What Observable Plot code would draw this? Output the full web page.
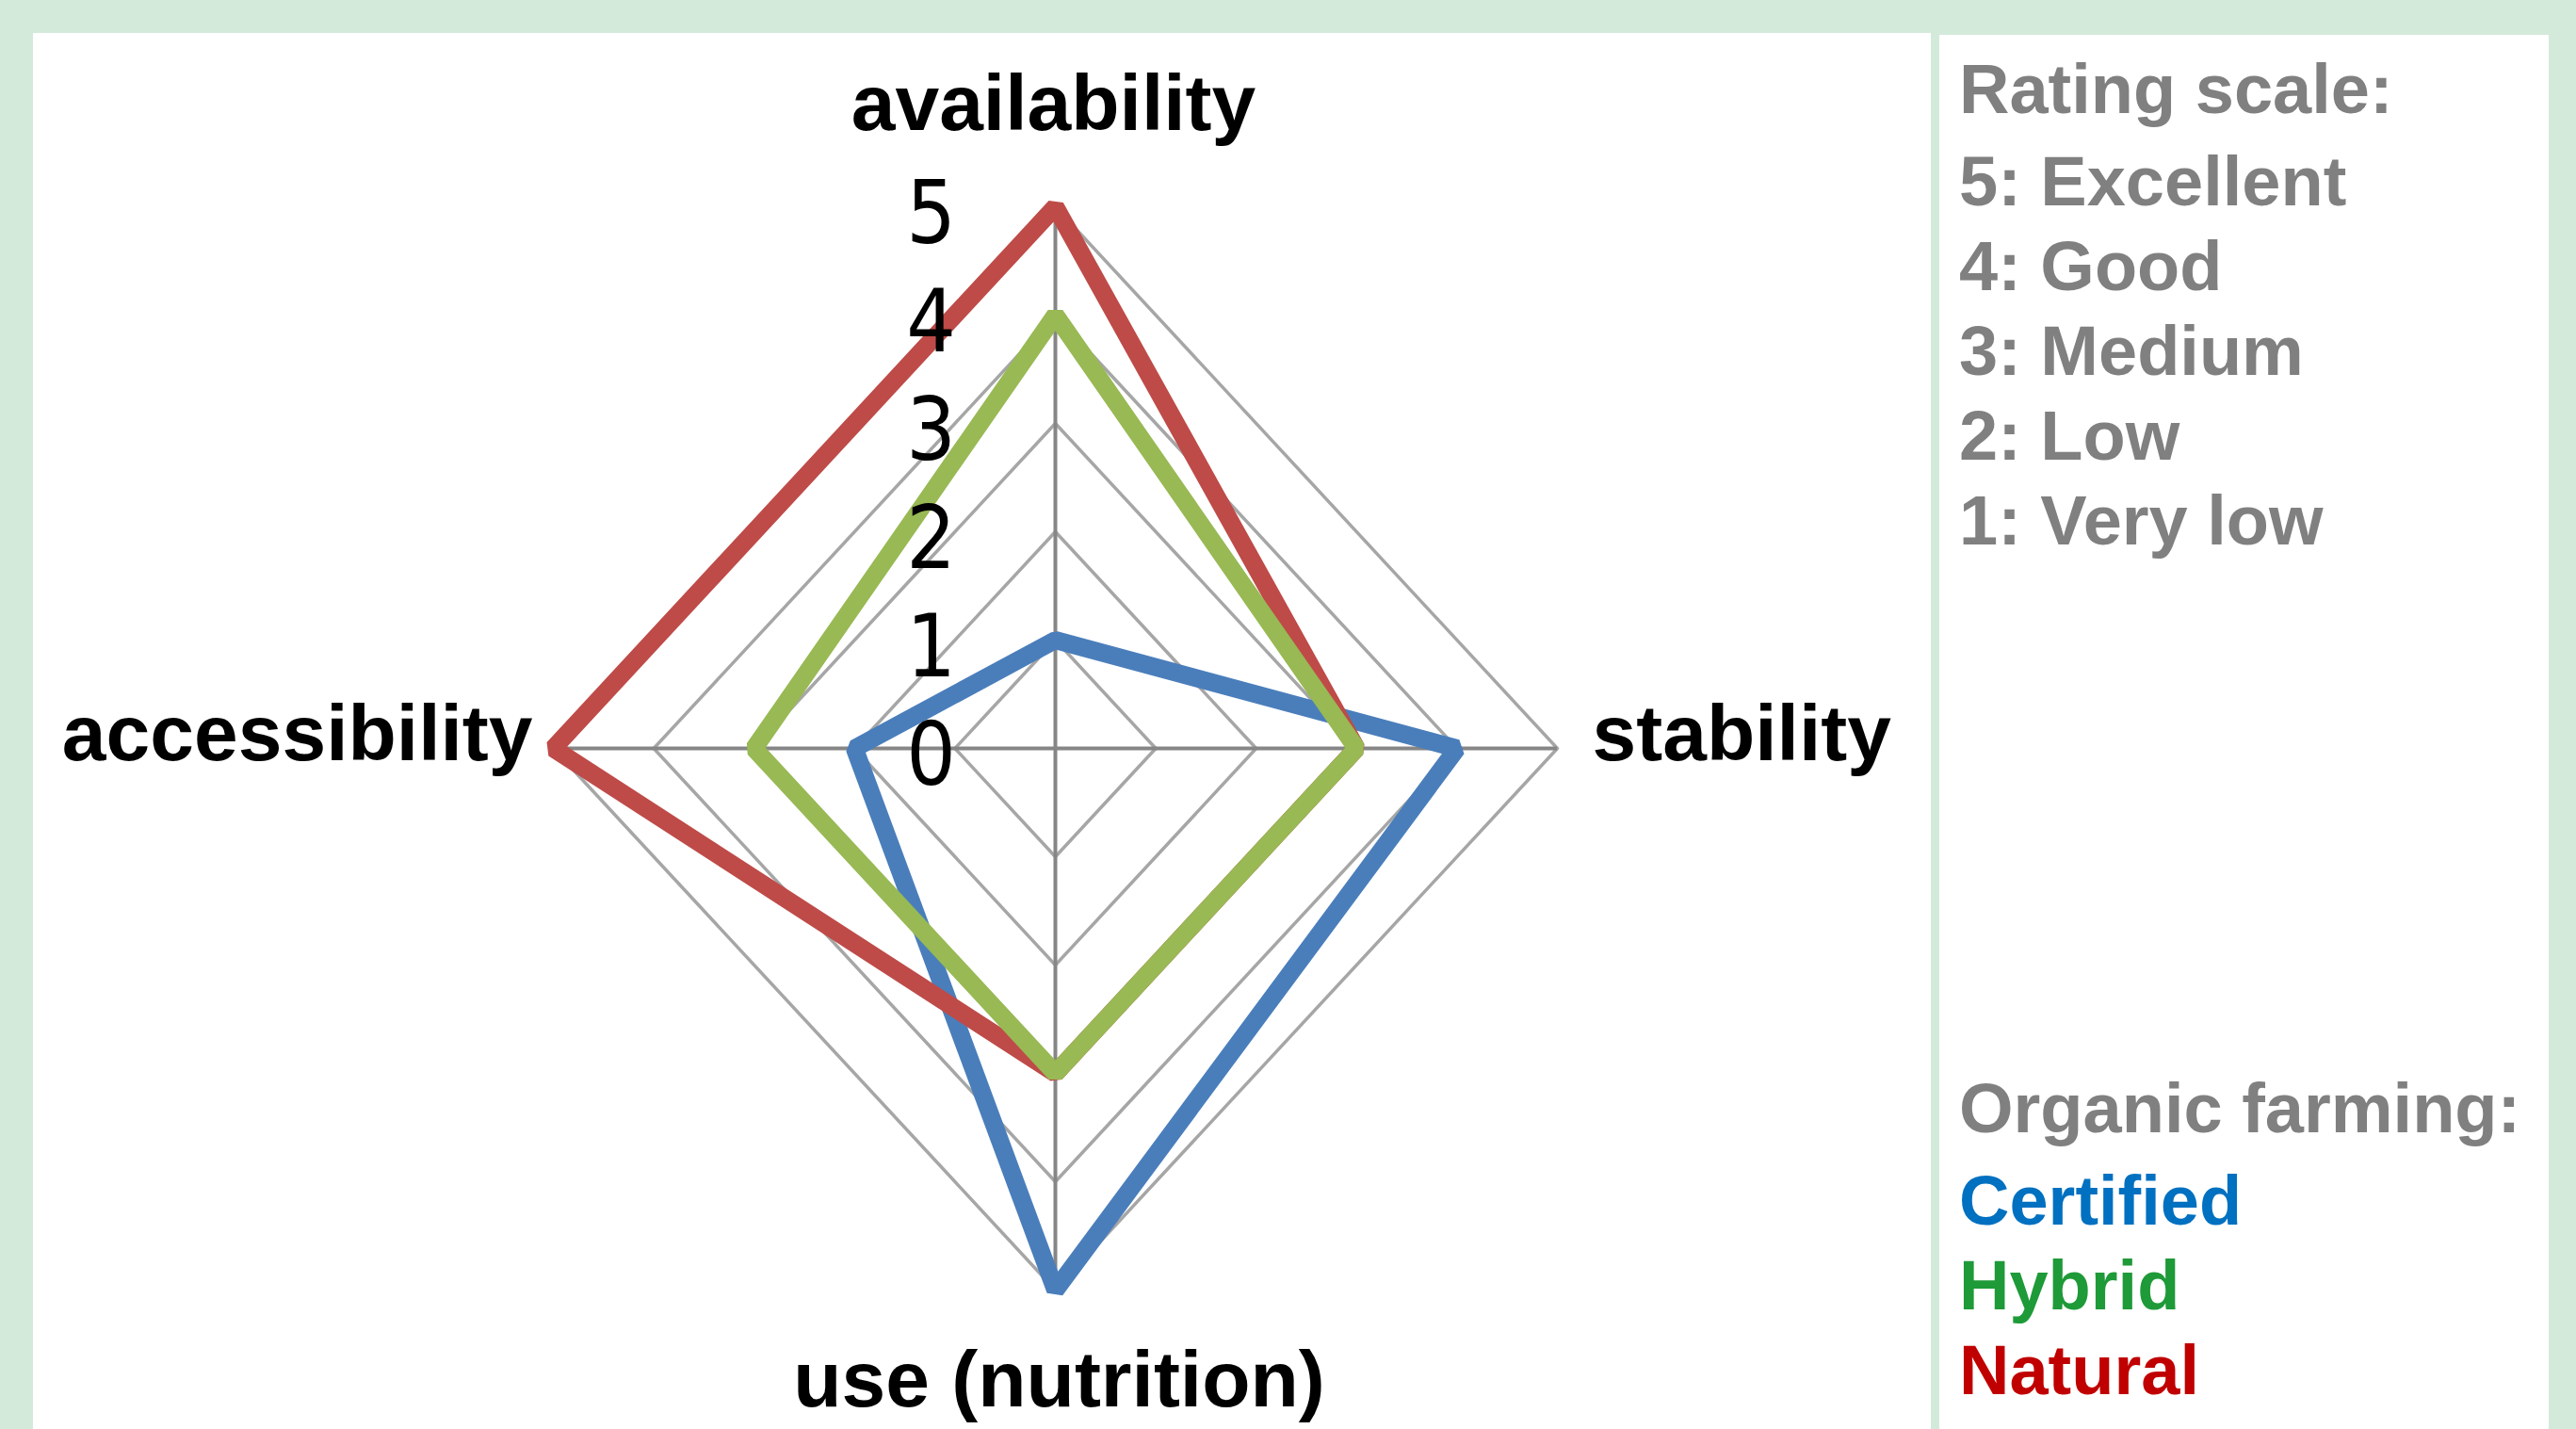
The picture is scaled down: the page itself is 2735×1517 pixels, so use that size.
<!DOCTYPE html>
<html><head><meta charset="utf-8">
<script src="https://cdn.jsdelivr.net/npm/d3@7"></script>
<script src="https://cdn.jsdelivr.net/npm/@observablehq/plot@0.6"></script>
<style>
html,body{margin:0;padding:0;}
body{width:2735px;height:1517px;background:#d3eadb;position:relative;overflow:hidden;font-family:"Liberation Sans",Arial,sans-serif;}
.panel{position:absolute;background:#fff;}
#chart{position:absolute;left:0;top:0;}
.note{position:absolute;left:2080px;font-size:74px;line-height:74px;font-weight:bold;white-space:nowrap;color:#808080;}
</style></head><body>
<div class="panel" style="left:35px;top:35px;width:2015px;height:1482px"></div>
<div class="panel" style="left:2059px;top:37px;width:647px;height:1480px"></div>
<div id="chart"></div>
<div id="notes"></div>
<script>
// ---- data ----
const axes = ["availability", "stability", "use (nutrition)", "accessibility"];
const seriesNames = ["Certified", "Hybrid", "Natural"];
const certified = [1, 4, 5, 2];
const hybrid = [4, 3, 3, 3];
const natural = [5, 3, 3, 5];
const ticks = [0, 1, 2, 3, 4, 5];
const ratingTitle = "Rating scale:";
const ratingLabels = ["5: Excellent", "4: Good", "3: Medium", "2: Low", "1: Very low"];
const legendTitle = "Organic farming:";

// ---- styles / layout ----
const lineColors = ["#4a7ebb", "#98b954", "#be4b48"];
const legendColors = ["#0070c0", "#1e9a38", "#c00000"];
const drawOrder = ["Certified", "Natural", "Hybrid"];
const labelLayout = [
  {dx: -2, dy: -82, textAnchor: "middle"},
  {dx: 37, dy: 12, textAnchor: "start"},
  {dx: 4, dy: 123, textAnchor: "middle"},
  {dx: -22, dy: 12, textAnchor: "end"}
];

const values = {Certified: certified, Hybrid: hybrid, Natural: natural};
const dir = axes.map((a, i) => [Math.round(Math.sin(i * Math.PI / 2)), Math.round(Math.cos(i * Math.PI / 2))]);
const rMax = d3.max(ticks);

const ringRows = ticks.filter(t => t > 0).flatMap(r => axes.map((a, i) => ({r, x: r * dir[i][0], y: r * dir[i][1]})));
const seriesRows = drawOrder.flatMap(s => values[s].map((v, i) => ({series: s, axis: axes[i], x: v * dir[i][0], y: v * dir[i][1]})));

const chart = Plot.plot({
  width: 2735,
  height: 1517,
  marginLeft: 587,
  marginRight: 1082,
  marginTop: 219,
  marginBottom: 148,
  x: {domain: [-rMax, rMax], axis: null},
  y: {domain: [-rMax, rMax], axis: null},
  color: {domain: seriesNames, range: lineColors},
  style: {background: "transparent", overflow: "visible"},
  marks: [
    Plot.line(ringRows, {x: "x", y: "y", z: "r", curve: "linear-closed", stroke: "#a6a6a6", strokeWidth: 3.5}),
    Plot.ruleY([0], {x1: -rMax, x2: rMax, stroke: "#868686", strokeWidth: 4}),
    Plot.ruleX([0], {y1: -rMax, y2: rMax, stroke: "#868686", strokeWidth: 4}),
    Plot.line(seriesRows, {x: "x", y: "y", z: "series", stroke: "series", curve: "linear-closed", strokeWidth: 19, strokeLinejoin: "bevel"}),
    Plot.text(ticks, {x: 0, y: d => d, text: d => String(d), dx: -132, dy: 9, fontSize: 92, fontFamily: "DejaVu Sans Condensed, DejaVu Sans", fill: "#000", lineAnchor: "middle", textAnchor: "middle"}),
    ...axes.map((a, i) => Plot.text([a], {
      x: rMax * dir[i][0], y: rMax * dir[i][1], text: d => d,
      dx: labelLayout[i].dx, dy: labelLayout[i].dy, textAnchor: labelLayout[i].textAnchor,
      lineAnchor: "bottom", fontSize: 84, fontWeight: "bold", fontFamily: "Liberation Sans, Arial, sans-serif", fill: "#000"
    }))
  ]
});
document.getElementById("chart").appendChild(chart);

// ---- side notes ----
const notes = document.getElementById("notes");
function addNote(text, baseline, color) {
  const d = document.createElement("div");
  d.className = "note";
  d.textContent = text;
  d.style.top = (baseline - 62.6) + "px";
  if (color) d.style.color = color;
  notes.appendChild(d);
}
addNote(ratingTitle, 121);
ratingLabels.forEach((t, i) => addNote(t, 219 + i * 90));
addNote(legendTitle, 1203);
seriesNames.forEach((s, i) => addNote(s, 1301 + i * 90, legendColors[i]));
</script>
</body></html>
